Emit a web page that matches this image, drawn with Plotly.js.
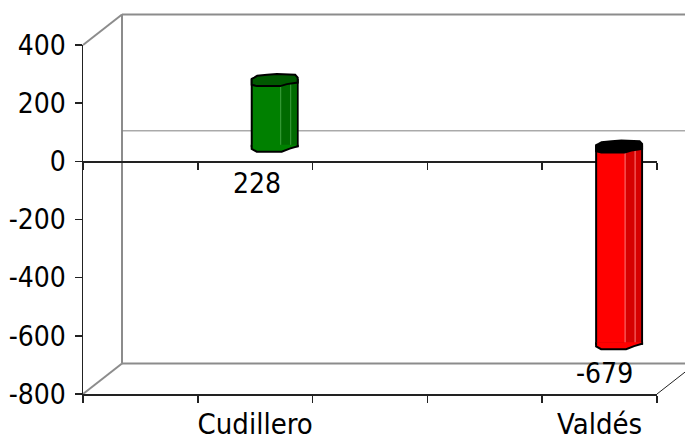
<!DOCTYPE html>
<html>
<head>
<meta charset="utf-8">
<script src="https://cdn.plot.ly/plotly-3.0.1.min.js"></script>
<style>html,body{margin:0;padding:0;background:#fff;}#chart{width:685px;height:443px;}</style>
</head>
<body>
<div id="chart"></div>
<script>
// ---- data ----
const categories = [' ', 'Cudillero', '  ', '   ', 'Valdés'];
const values = [null, 228, null, null, -679];
const yTickVals = [-800, -600, -400, -200, 0, 200, 400];
const yTickText = ['-800', '-600', '-400', '-200', '0', '200', '400'];

// ---- geometry (layout only) ----
const W = 685, H = 443;
const L = 83, R = 657, T = 45, B = 394;
const yMin = -800, yMax = 400;
const ppu = (B - T) / (yMax - yMin);
const nCat = categories.length;
const catW = (R - L) / nCat;
const MID = {dx: 19.5, dy: 15};
const BACK = {dx: 39, dy: 30.5};
const FONT = '"DejaVu Sans Condensed", "Liberation Sans Narrow", "DejaVu Sans", sans-serif';

const posStyle = {body: '#008000', side: '#006a00', cap: '#005800', hl: '#3f9f3f'};
const negStyle = {body: '#ff0000', side: '#d60000', cap: '#000000', hl: '#ff7a7a'};

function paper(px, py) { return [(px - L) / (R - L), (B - py) / (B - T)]; }
function wallLine(p0, p1, color, width) {
  const a = paper(p0[0], p0[1]), b = paper(p1[0], p1[1]);
  return {type: 'line', xref: 'paper', yref: 'paper', x0: a[0], y0: a[1], x1: b[0], y1: b[1],
          line: {color: color, width: width}, layer: 'below'};
}
const zeroPx = B - (0 - yMin) * ppu;
const shapes = [
  wallLine([L, T], [L + BACK.dx, T - BACK.dy], '#8c8c8c', 2),
  wallLine([L + BACK.dx, T - BACK.dy], [L + BACK.dx, B - BACK.dy], '#8c8c8c', 2),
  wallLine([L, B], [L + BACK.dx, B - BACK.dy], '#8c8c8c', 2),
  wallLine([L + BACK.dx, T - BACK.dy], [W + 20, T - BACK.dy], '#8c8c8c', 2),
  wallLine([L + BACK.dx, B - BACK.dy], [W + 20, B - BACK.dy], '#8c8c8c', 2),
  wallLine([L + BACK.dx, zeroPx - BACK.dy], [W + 20, zeroPx - BACK.dy], '#808080', 1),
  wallLine([R, B], [R + BACK.dx, B - BACK.dy], '#222222', 1)
];

function pathFrom(pts, close) {
  return 'M ' + pts.map(p => p[0] + ',' + p[1]).join(' L ') + (close ? ' Z' : '');
}
const capPts = [[-23,-4.8],[-23,1.2],[-20.5,2.5],[-17.5,4.2],[-7.5,5.2],[2.2,5.9],[20.5,5.2],[23,2.5],[23,-2.5],[12.2,-4.1],[5.5,-6.1],[-17.8,-6.1]];
const bulgePts = [[-23,1.5],[-23,-2.6],[-18,-5.4],[7,-5.4],[15,-2.3],[23,0],[23,1.5]];

const annotations = [];
categories.forEach((c, i) => {
  const v = values[i];
  if (v === null || v === undefined) return;
  const st = v >= 0 ? posStyle : negStyle;
  const top = Math.max(v, 0), bot = Math.min(v, 0);
  shapes.push({type: 'path', xref: 'x2', yref: 'y2', xsizemode: 'pixel', xanchor: c,
    path: `M 6,${bot} L 22,${bot} L 22,${top} L 6,${top} Z`, fillcolor: st.side, line: {width: 0}, layer: 'above'});
  [6, 16].forEach(off => shapes.push({type: 'line', xref: 'x2', yref: 'y2', xsizemode: 'pixel', xanchor: c,
    x0: off, x1: off, y0: bot, y1: top, line: {color: st.hl, width: 1}, layer: 'above'}));
  shapes.push({type: 'path', xref: 'x2', yref: 'y2', xsizemode: 'pixel', ysizemode: 'pixel', xanchor: c, yanchor: bot,
    path: pathFrom(bulgePts, false), fillcolor: st.body, line: {color: '#000', width: 2}, layer: 'above'});
  shapes.push({type: 'path', xref: 'x2', yref: 'y2', xsizemode: 'pixel', ysizemode: 'pixel', xanchor: c, yanchor: top,
    path: pathFrom(capPts, true), fillcolor: st.cap, line: {color: '#000', width: 2}, layer: 'above'});
  annotations.push({xref: 'x', yref: 'y', x: c, y: v >= 0 ? 0 : v, xshift: v >= 0 ? 2 : 5, yshift: v >= 0 ? -22 : -15,
    text: String(v), showarrow: false, font: {family: FONT, size: 28, color: '#000'}});
});

const traces = [
  {type: 'scatter', x: categories, y: values, xaxis: 'x', yaxis: 'y', mode: 'markers',
   marker: {opacity: 0}, hoverinfo: 'skip', showlegend: false},
  {type: 'scatter', x: categories, y: values, xaxis: 'x3', yaxis: 'y', mode: 'markers',
   marker: {opacity: 0}, hoverinfo: 'skip', showlegend: false},
  {type: 'bar', x: categories, y: values, xaxis: 'x2', yaxis: 'y2', width: 0.4,
   marker: {color: values.map(v => (v !== null && v < 0) ? negStyle.body : posStyle.body), line: {color: '#000', width: 2}},
   showlegend: false, hoverinfo: 'x+y'}
];

const xCommon = {type: 'category', categoryorder: 'array', categoryarray: categories, range: [-0.5, nCat - 0.5],
  showgrid: false, zeroline: false, showline: true, linecolor: '#222', linewidth: 1.5,
  ticks: 'outside', tickson: 'boundaries', ticklen: 7, tickwidth: 1.5, tickcolor: '#222', fixedrange: true};

const layout = {
  width: W, height: H,
  margin: {l: L, r: W - R, t: T, b: H - B, pad: 0},
  paper_bgcolor: '#fff', plot_bgcolor: 'rgba(0,0,0,0)',
  showlegend: false,
  xaxis: Object.assign({}, xCommon, {anchor: 'y', side: 'bottom', showticklabels: true, tickangle: 0,
    tickfont: {family: FONT, size: 29, color: '#000'}, ticklabelstandoff: 4}),
  xaxis3: Object.assign({}, xCommon, {overlaying: 'x', anchor: 'free', position: (0 - yMin) / (yMax - yMin),
    showticklabels: false, layer: 'below traces'}),
  xaxis2: {type: 'category', categoryorder: 'array', categoryarray: categories, overlaying: 'x', anchor: 'y2',
    range: [-0.5 - MID.dx / catW, nCat - 0.5 - MID.dx / catW], visible: false, fixedrange: true},
  yaxis: {range: [yMin, yMax], tickvals: yTickVals, ticktext: yTickText, showgrid: false, zeroline: false,
    showline: true, linecolor: '#222', linewidth: 1.5, ticks: 'outside', ticklen: 7, tickwidth: 1.5, tickcolor: '#222',
    tickfont: {family: FONT, size: 28, color: '#000'}, ticklabelstandoff: 3, fixedrange: true},
  yaxis2: {range: [yMin - MID.dy / ppu, yMax - MID.dy / ppu], overlaying: 'y', anchor: 'x2', visible: false, fixedrange: true},
  shapes: shapes,
  annotations: annotations
};

Plotly.newPlot('chart', traces, layout, {displayModeBar: false, staticPlot: true});
</script>
</body>
</html>
